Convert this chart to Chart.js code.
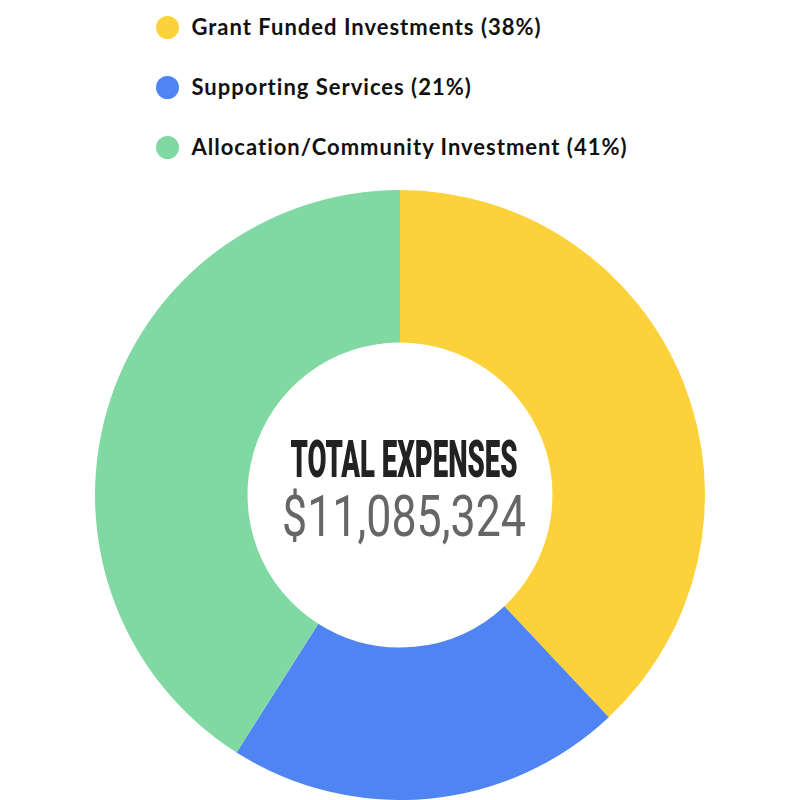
<!DOCTYPE html>
<html>
<head>
<meta charset="utf-8">
<script src="https://cdn.jsdelivr.net/npm/chart.js@4"></script>
<style>
  html, body { margin: 0; padding: 0; background: #fff; }
  #wrap { position: relative; width: 800px; height: 800px; }
  #legend { position: absolute; left: 156px; top: 0; font-family: Lato, "Open Sans", sans-serif; font-weight: 700; font-size: 22px; letter-spacing: 1px; color: #111; }
  .item { position: absolute; left: 0; white-space: nowrap; height: 24px; line-height: 24px; }
  .dot { position: absolute; left: 0; top: 0.5px; width: 23px; height: 23px; border-radius: 50%; }
  .txt { position: absolute; left: 35.5px; top: 0; }
  #box { position: absolute; left: 0; top: 190px; width: 800px; height: 610px; }
</style>
</head>
<body>
<div id="wrap">
  <div id="legend"></div>
  <div id="box"><canvas id="expensesChart"></canvas></div>
</div>
<script>
const labels = ['Grant Funded Investments', 'Supporting Services', 'Allocation/Community Investment'];
const shares = [38, 21, 41];
const colors = ['#FDD13A', '#4F84F2', '#80D8A2'];
const totalTitle = 'TOTAL EXPENSES';
const totalValue = '$11,085,324';

// legend rows, one per line
const legendEl = document.getElementById('legend');
labels.forEach(function (name, i) {
    const row = document.createElement('div');
    row.className = 'item';
    row.style.top = (15 + i * 60) + 'px';
    row.innerHTML = '<span class="dot" style="background:' + colors[i] + '"></span>' +
        '<span class="txt">' + name + ' (' + shares[i] + '%)</span>';
    legendEl.appendChild(row);
});

// centre label drawn on the canvas, squeezed to look condensed
const centerText = {
    id: 'centerText',
    afterDraw: function (chart) {
        const arc = chart.getDatasetMeta(0).data[0];
        if (!arc) return;
        const ctx = chart.ctx;
        const cx = arc.x + 4;
        const cy = arc.y;

        function squeezed(text, font, color, width, baseline) {
            ctx.save();
            ctx.font = font;
            ctx.fillStyle = color;
            ctx.textAlign = 'center';
            ctx.textBaseline = 'alphabetic';
            const w = ctx.measureText(text).width;
            ctx.translate(cx, cy + baseline);
            ctx.scale(width / w, 1);
            ctx.fillText(text, 0, 0);
            ctx.restore();
        }

        squeezed(totalTitle, '900 51px Roboto, sans-serif', '#222222', 227, -18);
        squeezed(totalValue, '400 58px Roboto, sans-serif', '#666666', 244, 41);
    }
};

const ctxDonut = document.getElementById('expensesChart').getContext('2d');
new Chart(ctxDonut, {
    type: 'doughnut',
    data: {
        labels: labels,
        datasets: [{
            data: shares,
            backgroundColor: colors,
            borderWidth: 0
        }]
    },
    options: {
        responsive: true,
        maintainAspectRatio: false,
        animation: false,
        cutout: '50%',
        layout: { padding: 0 },
        plugins: {
            legend: { display: false },
            tooltip: { enabled: false }
        }
    },
    plugins: [centerText]
});
</script>
</body>
</html>
